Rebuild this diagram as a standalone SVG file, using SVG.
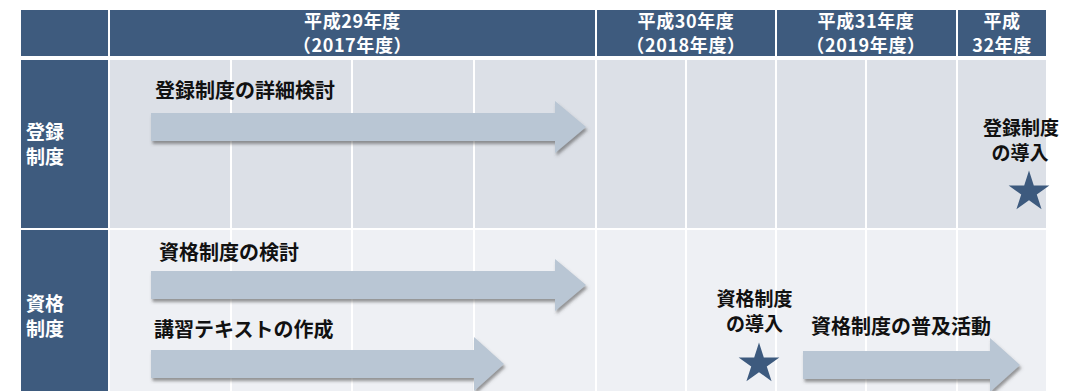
<svg xmlns="http://www.w3.org/2000/svg" width="1085" height="391" viewBox="0 0 1085 391">
  <defs>
    <style>
      .hdr { fill: #3E5B7E; }
      .r1 { fill: #DCE0E7; }
      .r2 { fill: #EEF0F4; }
      .vl { fill: #FFFFFF; }
      .ht { font-family: "Noto Sans CJK JP", "Noto Sans", sans-serif; font-weight: bold; font-size: 18px; letter-spacing: 0.6px; fill: #FFFFFF; text-anchor: middle; }
      .rl { font-family: "Noto Sans CJK JP", "Noto Sans", sans-serif; font-weight: bold; font-size: 19px; fill: #FFFFFF; }
      .lb { font-family: "Noto Sans CJK JP", "Noto Sans", sans-serif; font-weight: bold; font-size: 20px; fill: #111111; }
      .lbc { font-family: "Noto Sans CJK JP", "Noto Sans", sans-serif; font-weight: bold; font-size: 19px; fill: #111111; text-anchor: middle; }
      .arr { fill: #B9C6D4; filter: url(#shadow); }
      .star { fill: #3D5A7E; }
    </style>
    <filter id="shadow" x="-10%" y="-30%" width="120%" height="170%">
      <feDropShadow dx="1.5" dy="3" stdDeviation="1.8" flood-color="#4A4A4A" flood-opacity="0.55"/>
    </filter>
    <path id="starShape" d="M0,-21 L4.71,-6.49 L19.97,-6.49 L7.63,2.48 L12.34,16.99 L0,8.02 L-12.34,16.99 L-7.63,2.48 L-19.97,-6.49 L-4.71,-6.49 Z"/>
  </defs>

  <rect x="0" y="0" width="1085" height="391" fill="#FFFFFF"/>

  <!-- header row -->
  <g id="header">
    <rect class="hdr" x="21" y="10" width="87" height="46"/>
    <g id="h-fy2017">
      <rect class="hdr" x="110" y="10" width="485" height="46"/>
      <text class="ht"><tspan x="352.5" y="28">平成29年度</tspan><tspan x="352.5" y="52">（2017年度）</tspan></text>
    </g>
    <g id="h-fy2018">
      <rect class="hdr" x="597" y="10" width="178" height="46"/>
      <text class="ht"><tspan x="686" y="28">平成30年度</tspan><tspan x="686" y="52">（2018年度）</tspan></text>
    </g>
    <g id="h-fy2019">
      <rect class="hdr" x="777" y="10" width="179" height="46"/>
      <text class="ht"><tspan x="866" y="28">平成31年度</tspan><tspan x="866" y="52">（2019年度）</tspan></text>
    </g>
    <g id="h-fy2020">
      <rect class="hdr" x="958" y="10" width="88" height="46"/>
      <text class="ht"><tspan x="1002" y="28">平成</tspan><tspan x="1002" y="52">32年度</tspan></text>
    </g>
  </g>

  <!-- row 1: registration system -->
  <g id="row-registration">
    <rect class="hdr" x="21" y="60" width="87" height="168"/>
    <text class="rl"><tspan x="26" y="139">登録</tspan><tspan x="26" y="164">制度</tspan></text>
    <rect class="r1" x="110" y="60" width="485" height="168"/>
    <rect class="r1" x="597" y="60" width="178" height="168"/>
    <rect class="r1" x="777" y="60" width="179" height="168"/>
    <rect class="r1" x="958" y="60" width="88" height="168"/>
  </g>

  <!-- row 2: qualification system -->
  <g id="row-qualification">
    <rect class="hdr" x="21" y="230" width="87" height="161"/>
    <text class="rl"><tspan x="26" y="311">資格</tspan><tspan x="26" y="336">制度</tspan></text>
    <rect class="r2" x="110" y="230" width="485" height="161"/>
    <rect class="r2" x="597" y="230" width="178" height="161"/>
    <rect class="r2" x="777" y="230" width="179" height="161"/>
    <rect class="r2" x="958" y="230" width="88" height="161"/>
  </g>

  <!-- quarter grid lines -->
  <g id="grid">
    <rect class="vl" x="230" y="56" width="2" height="335"/>
    <rect class="vl" x="351" y="56" width="2" height="335"/>
    <rect class="vl" x="473" y="56" width="2" height="335"/>
    <rect class="vl" x="685" y="56" width="2" height="335"/>
    <rect class="vl" x="865" y="56" width="2" height="335"/>
  </g>

  <!-- task arrows -->
  <g id="connectors">
    <g id="task-reg-study">
      <path class="arr" d="M151,113 H555 V101 L586,127 L555,153 V141 H151 Z"/>
      <text class="lb" x="155" y="98">登録制度の詳細検討</text>
    </g>
    <g id="task-qual-study">
      <path class="arr" d="M151,271 H555 V259 L586,285 L555,311 V299 H151 Z"/>
      <text class="lb" x="159" y="260">資格制度の検討</text>
    </g>
    <g id="task-textbook">
      <path class="arr" d="M151,350 H474 V337 L504,364 L474,391 V378 H151 Z"/>
      <text class="lb" x="154" y="337">講習テキストの作成</text>
    </g>
    <g id="task-promotion">
      <path class="arr" d="M803,351 H990 V338 L1020,365 L990,392 V379 H803 Z"/>
      <text class="lb" x="811" y="334">資格制度の普及活動</text>
    </g>
  </g>

  <!-- milestones -->
  <g id="milestone-registration">
    <text class="lbc"><tspan x="1021" y="135">登録制度</tspan><tspan x="1020" y="160">の導入</tspan></text>
    <use href="#starShape" class="star" transform="translate(1029,192) scale(1.02)"/>
  </g>
  <g id="milestone-qualification">
    <text class="lbc"><tspan x="754.5" y="306">資格制度</tspan><tspan x="754.5" y="331">の導入</tspan></text>
    <use href="#starShape" class="star" transform="translate(759,364) scale(1.02)"/>
  </g>
</svg>
